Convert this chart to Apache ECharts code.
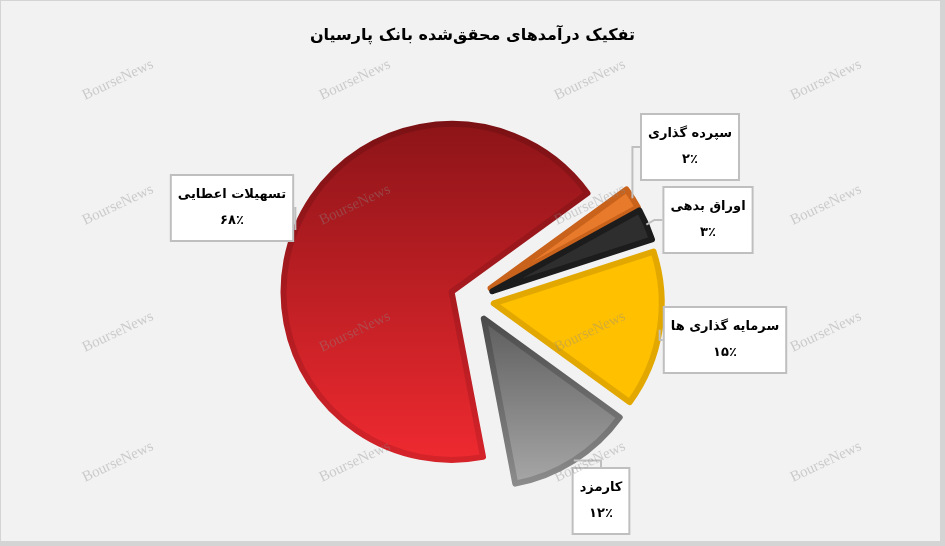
<!DOCTYPE html>
<html>
<head>
<meta charset="utf-8">
<script src="https://cdn.jsdelivr.net/npm/echarts@6/dist/echarts.min.js"></script>
<style>
html,body{margin:0;padding:0;background:#fff;}
#chart{width:945px;height:546px;}
</style>
</head>
<body>
<div id="chart"></div>
<script>
const titleText = 'تفکیک درآمدهای محقق‌شده بانک پارسیان';
const categories = ['سپرده گذاری', 'اوراق بدهی', 'سرمایه گذاری ها', 'کارمزد', 'تسهیلات اعطایی'];
const values = [2, 3, 15, 12, 68];
const percentLabels = ['۲٪', '۳٪', '۱۵٪', '۱۲٪', '۶۸٪'];
const watermark = 'BourseNews';

const chart = echarts.init(document.getElementById('chart'), null, {renderer: 'canvas'});
const LG = echarts.graphic.LinearGradient;

const styles = [
  {color: '#e87a2c', borderColor: '#c9621b'},
  {color: '#2e2e2e', borderColor: '#1c1c1c'},
  {color: '#ffc000', borderColor: '#e2a800'},
  {color: new LG(0, 0, 0, 1, [{offset: 0, color: '#5c5c5c'}, {offset: 1, color: '#a8a8a8'}]),
   borderColor: new LG(0, 0, 0, 1, [{offset: 0, color: '#4a4a4a'}, {offset: 1, color: '#8c8c8c'}])},
  {color: new LG(0, 0, 0, 1, [{offset: 0, color: '#8c1418'}, {offset: 1, color: '#ef2a30'}]),
   borderColor: new LG(0, 0, 0, 1, [{offset: 0, color: '#7a1114'}, {offset: 1, color: '#d6232a'}])}
];

// label box centres
const labelPos = [[690, 147], [708, 220], [725, 340], [601, 501], [232, 208]];

const wmX = [118, 355, 590, 826];
const wmY = [80, 205, 332, 462];
const wm = [];
wmY.forEach(function (y) {
  wmX.forEach(function (x) {
    wm.push({
      type: 'text', x: x, y: y, rotation: 0.44, z: 100, silent: true,
      style: {text: watermark, fill: 'rgba(140,140,140,0.38)', font: '15px "Liberation Serif"',
              align: 'center', verticalAlign: 'middle'}
    });
  });
});

const pieCenter = [472, 300];
const pieRadius = 168;
const explode = 22;

chart.setOption({
  animation: false,
  backgroundColor: '#ffffff',
  title: {
    text: titleText, left: 'center', top: 23,
    textStyle: {fontFamily: 'DejaVu Sans', fontWeight: 'bold', fontSize: 16, color: '#000'}
  },
  graphic: [
    {type: 'rect', shape: {x: 0, y: 0, width: 945, height: 546}, z: -10, silent: true, style: {fill: '#d4d4d4'}},
    {type: 'rect', shape: {x: 1, y: 1, width: 939, height: 540}, z: -9, silent: true, style: {fill: '#f2f2f2'}}
  ].concat(wm),
  series: [{
    type: 'pie',
    center: pieCenter,
    radius: pieRadius,
    startAngle: 36,
    clockwise: true,
    selectedMode: 'multiple',
    selectedOffset: explode,
    emphasis: {disabled: true},
    label: {show: false},
    labelLine: {show: false},
    data: values.map(function (v, i) {
      return {value: v, name: categories[i], selected: true,
        itemStyle: {color: styles[i].color, borderColor: styles[i].borderColor, borderWidth: 6}};
    })
  }, {
    type: 'pie',
    z: 3,
    silent: true,
    center: pieCenter,
    radius: pieRadius + explode,
    startAngle: 36,
    clockwise: true,
    avoidLabelOverlap: false,
    emphasis: {disabled: true},
    itemStyle: {color: 'rgba(0,0,0,0)', borderWidth: 0},
    data: values.map(function (v, i) { return {value: v, name: categories[i]}; }),
    label: {
      show: true,
      formatter: function (p) { return p.name + '\n' + percentLabels[p.dataIndex]; },
      backgroundColor: '#ffffff', borderColor: '#bfbfbf', borderWidth: 2,
      padding: [6, 6, 6, 6], lineHeight: 26,
      fontFamily: 'DejaVu Sans', fontWeight: 'bold', fontSize: 13, color: '#000'
    },
    labelLine: {show: true, length: 8, length2: 8, lineStyle: {color: '#bfbfbf', width: 2}},
    labelLayout: function (p) {
      const pos = labelPos[p.dataIndex];
      return {x: pos[0], y: pos[1], align: 'center', verticalAlign: 'middle'};
    }
  }]
});
</script>
</body>
</html>
